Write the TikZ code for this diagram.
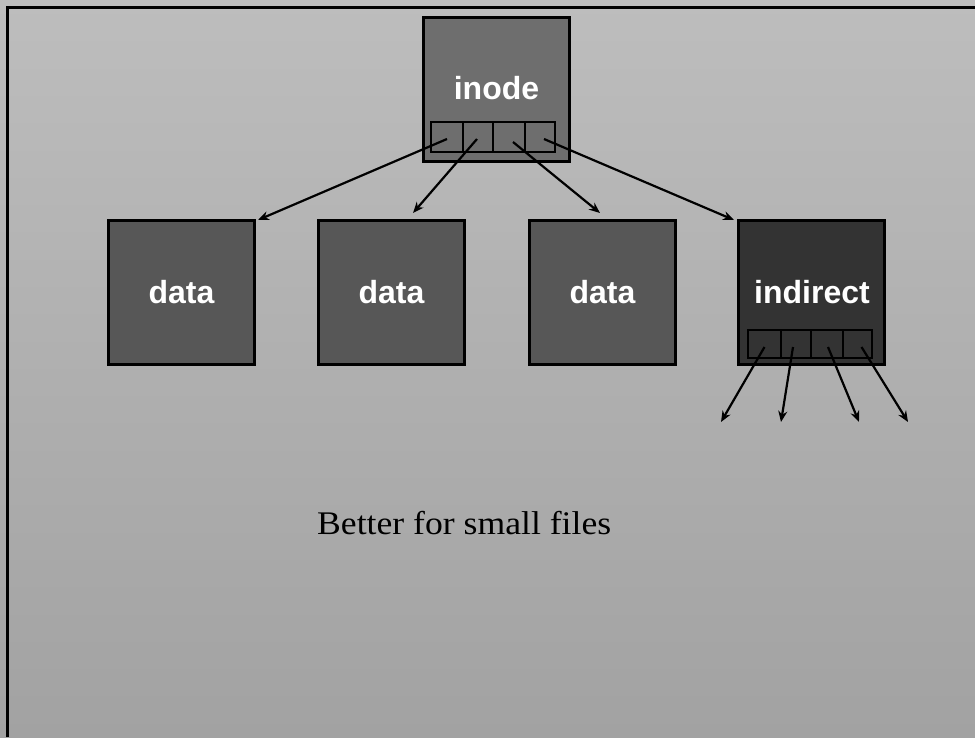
\documentclass[tikz,border=0pt]{standalone}
\usepackage{fontspec}
\setmainfont{Liberation Serif}
\setsansfont{Liberation Sans}
\usetikzlibrary{arrows.meta}

\definecolor{bgtop}{HTML}{BDBDBD}
\definecolor{bgbot}{HTML}{A2A2A2}
\definecolor{inodefill}{HTML}{6E6E6E}
\definecolor{datafill}{HTML}{575757}
\definecolor{indfill}{HTML}{333333}

\tikzset{
  lbl/.style={text=white, font=\sffamily\bfseries\fontsize{32}{32}\selectfont},
  block/.style={draw=black, line width=3pt, minimum width=146pt, minimum height=144pt,
    inner sep=0pt, lbl},
  slot/.style={draw=black, line width=2.6pt, inner sep=0pt, minimum height=30pt},
  ptr/.style={-{Stealth[length=11pt,width=9pt]}, line width=2.2pt}
}

\begin{document}
\begin{tikzpicture}[x=1pt,y=-1pt]
  % page background and frame edges
  \useasboundingbox (0,0) rectangle (975,737);
  \shade[top color=bgtop, bottom color=bgbot] (0,0) rectangle (975,737);
  \draw[line width=3pt] (7,737) -- (7,7) -- (975,7);

  % inode with its four pointer slots
  \node[block, fill=inodefill] (inode) at (496.5,89.5) {};
  \node[lbl] (inodelbl) at (496.5,88) {inode};
  \node[slot, fill=inodefill, minimum width=32pt] (s1) at (447,137) {};
  \node[slot, fill=inodefill, minimum width=30pt] (s2) at (478,137) {};
  \node[slot, fill=inodefill, minimum width=32pt] (s3) at (509,137) {};
  \node[slot, fill=inodefill, minimum width=30pt] (s4) at (540,137) {};

  % data blocks and indirect block
  \node[block, fill=datafill] (d1) at (181.5,292.5) {data};
  \node[block, fill=datafill] (d2) at (391.5,292.5) {data};
  \node[block, fill=datafill] (d3) at (602.5,292.5) {data};
  \node[block, fill=indfill] (ind) at (811.5,292.5) {};
  \node[lbl] (indlbl) at (812,292) {indirect};

  % pointer slots of the indirect block
  \node[slot, fill=indfill, minimum width=33pt, minimum height=28pt] (t1) at (764.5,344) {};
  \node[slot, fill=indfill, minimum width=30pt, minimum height=28pt] (t2) at (796,344) {};
  \node[slot, fill=indfill, minimum width=32pt, minimum height=28pt] (t3) at (827,344) {};
  \node[slot, fill=indfill, minimum width=29pt, minimum height=28pt] (t4) at (857.5,344) {};

  % free ends of pointers
  \coordinate (e2) at (413,213);
  \coordinate (e3) at (600,213);
  \coordinate (f1) at (721,422);
  \coordinate (f2) at (781,422);
  \coordinate (f3) at (859,422);
  \coordinate (f4) at (908,422);

  % pointers from the inode
  \draw[ptr] ([yshift=-2pt]s1.center) -- ([shift={(2pt,-1pt)}]d1.north east);
  \draw[ptr] ([xshift=-1pt,yshift=-2pt]s2.center) -- (e2);
  \draw[ptr] ([xshift=4pt,yshift=-5pt]s3.center) -- (e3);
  \draw[ptr] ([xshift=4pt,yshift=-2pt]s4.center) -- ([shift={(-3pt,-1pt)}]ind.north west);

  % pointers from the indirect block
  \draw[ptr] ([yshift=-3pt]t1.center) -- (f1);
  \draw[ptr] ([xshift=-3pt,yshift=-3pt]t2.center) -- (f2);
  \draw[ptr] ([xshift=1pt,yshift=-3pt]t3.center) -- (f3);
  \draw[ptr] ([xshift=4pt,yshift=-3pt]t4.center) -- (f4);

  % caption
  \node[anchor=base west, inner sep=0pt, font=\fontsize{33}{33}\selectfont, xscale=1.08] (cap) at (317,534) {Better for small files};
\end{tikzpicture}
\end{document}
